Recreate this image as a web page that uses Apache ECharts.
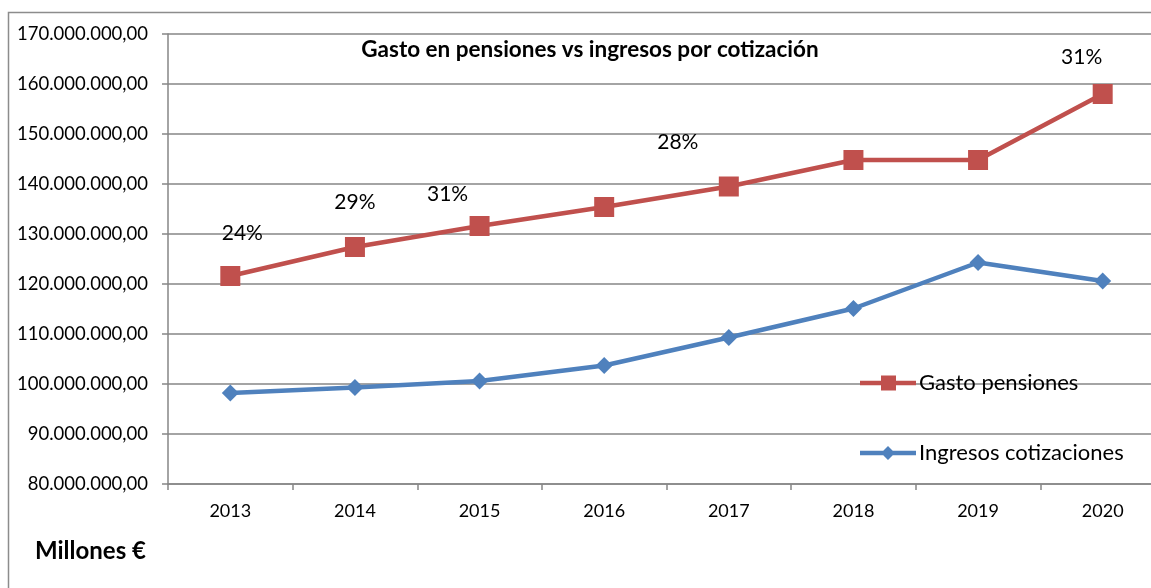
<!DOCTYPE html>
<html>
<head>
<meta charset="utf-8">
<script src="https://cdn.jsdelivr.net/npm/echarts@6/dist/echarts.min.js"></script>
<style>
  html, body { margin: 0; padding: 0; background: #fff; overflow: hidden; }
  /* the original plot area runs past the right edge of the picture */
  #chart { width: 1180px; height: 588px; }
</style>
</head>
<body>
<div id="chart"></div>
<script>
var years = ['2013', '2014', '2015', '2016', '2017', '2018', '2019', '2020'];
var gastoPensiones = [121600000, 127400000, 131600000, 135400000, 139500000, 144800000, 144800000, 158000000];
var ingresosCotizaciones = [98200000, 99300000, 100600000, 103700000, 109300000, 115100000, 124300000, 120600000];
var porcentajes = ['24%', '29%', '31%', '', '28%', '', '', '31%'];
// label nudges relative to each red point
var labelOffsets = [[12, -17], [0, -19], [-32, -6], [0, 0], [-51, -19], [0, 0], [0, 0], [-21, -11]];

var redColor = '#C0504D';
var blueColor = '#4F81BD';
var font = 'Lato, "Open Sans", sans-serif';

// legend icons: thick line with the marker in the middle
var redIcon = 'path://M0,5.25H21V0H36V5.25H56V9.75H36V15H21V9.75H0Z';
var blueIcon = 'path://M0,4.75H23.25L28,0L32.75,4.75H56V9.25H32.75L28,14L23.25,9.25H0Z';

function fmtMillones(v) {
  var s = Math.round(v).toString().replace(/\B(?=(\d{3})+(?!\d))/g, '.');
  return s + ',00';
}

var chart = echarts.init(document.getElementById('chart'));

var redData = gastoPensiones.map(function (v, i) {
  var item = { value: v };
  if (porcentajes[i]) {
    item.label = {
      show: true,
      position: 'top',
      formatter: porcentajes[i],
      offset: labelOffsets[i],
      fontSize: 21,
      color: '#000',
      fontFamily: font
    };
  }
  return item;
});

var option = {
  backgroundColor: '#fff',
  animation: false,
  title: {
    text: 'Gasto en pensiones vs ingresos por cotización',
    left: 585,
    textAlign: 'center',
    top: 33,
    textStyle: { fontSize: 22.5, fontWeight: 'bold', color: '#000', fontFamily: font }
  },
  legend: [
    {
      data: [{ name: 'Gasto pensiones', icon: redIcon }],
      left: 860,
      top: 372,
      padding: 0,
      itemWidth: 56,
      itemHeight: 15,
      itemGap: 0,
      textStyle: { fontSize: 22, color: '#000', fontFamily: font, padding: [0, 0, 0, -2] }
    },
    {
      data: [{ name: 'Ingresos cotizaciones', icon: blueIcon }],
      left: 860,
      top: 442,
      padding: 0,
      itemWidth: 56,
      itemHeight: 14,
      itemGap: 0,
      textStyle: { fontSize: 22, color: '#000', fontFamily: font, padding: [0, 0, 0, -2] }
    }
  ],
  graphic: [
    {
      type: 'polyline',
      shape: { points: [[8.5, 600], [8.5, 12.5], [1180, 12.5]] },
      style: { stroke: '#8c8c8c', lineWidth: 1.5, fill: null }
    },
    {
      type: 'text',
      left: 35,
      top: 539,
      style: { text: 'Millones €', fontSize: 24, fontWeight: 'bold', fill: '#000', fontFamily: font }
    }
  ],
  grid: { left: 168, width: 997, top: 34, bottom: 104, containLabel: false },
  xAxis: {
    type: 'category',
    data: years,
    boundaryGap: true,
    axisLine: { lineStyle: { color: '#868686', width: 1.5 } },
    axisTick: { show: true, length: 6, interval: 0, lineStyle: { color: '#868686', width: 1.5 } },
    axisLabel: { fontSize: 18, color: '#000', margin: 18, fontFamily: font }
  },
  yAxis: {
    type: 'value',
    min: 80000000,
    max: 170000000,
    interval: 10000000,
    axisLine: { show: true, lineStyle: { color: '#868686', width: 1.5 } },
    axisTick: { show: true, length: 6, lineStyle: { color: '#868686', width: 1.5 } },
    splitLine: { lineStyle: { color: '#868686', width: 1.5 } },
    axisLabel: { fontSize: 18.5, color: '#000', margin: 20, fontFamily: font, formatter: fmtMillones }
  },
  series: [
    {
      name: 'Gasto pensiones',
      type: 'line',
      data: redData,
      symbol: 'rect',
      symbolSize: 20,
      color: redColor,
      lineStyle: { width: 4.5, color: redColor },
      itemStyle: { color: redColor }
    },
    {
      name: 'Ingresos cotizaciones',
      type: 'line',
      data: ingresosCotizaciones,
      symbol: 'diamond',
      symbolSize: 17,
      color: blueColor,
      lineStyle: { width: 4.5, color: blueColor },
      itemStyle: { color: blueColor }
    }
  ]
};

chart.setOption(option);
</script>
</body>
</html>
